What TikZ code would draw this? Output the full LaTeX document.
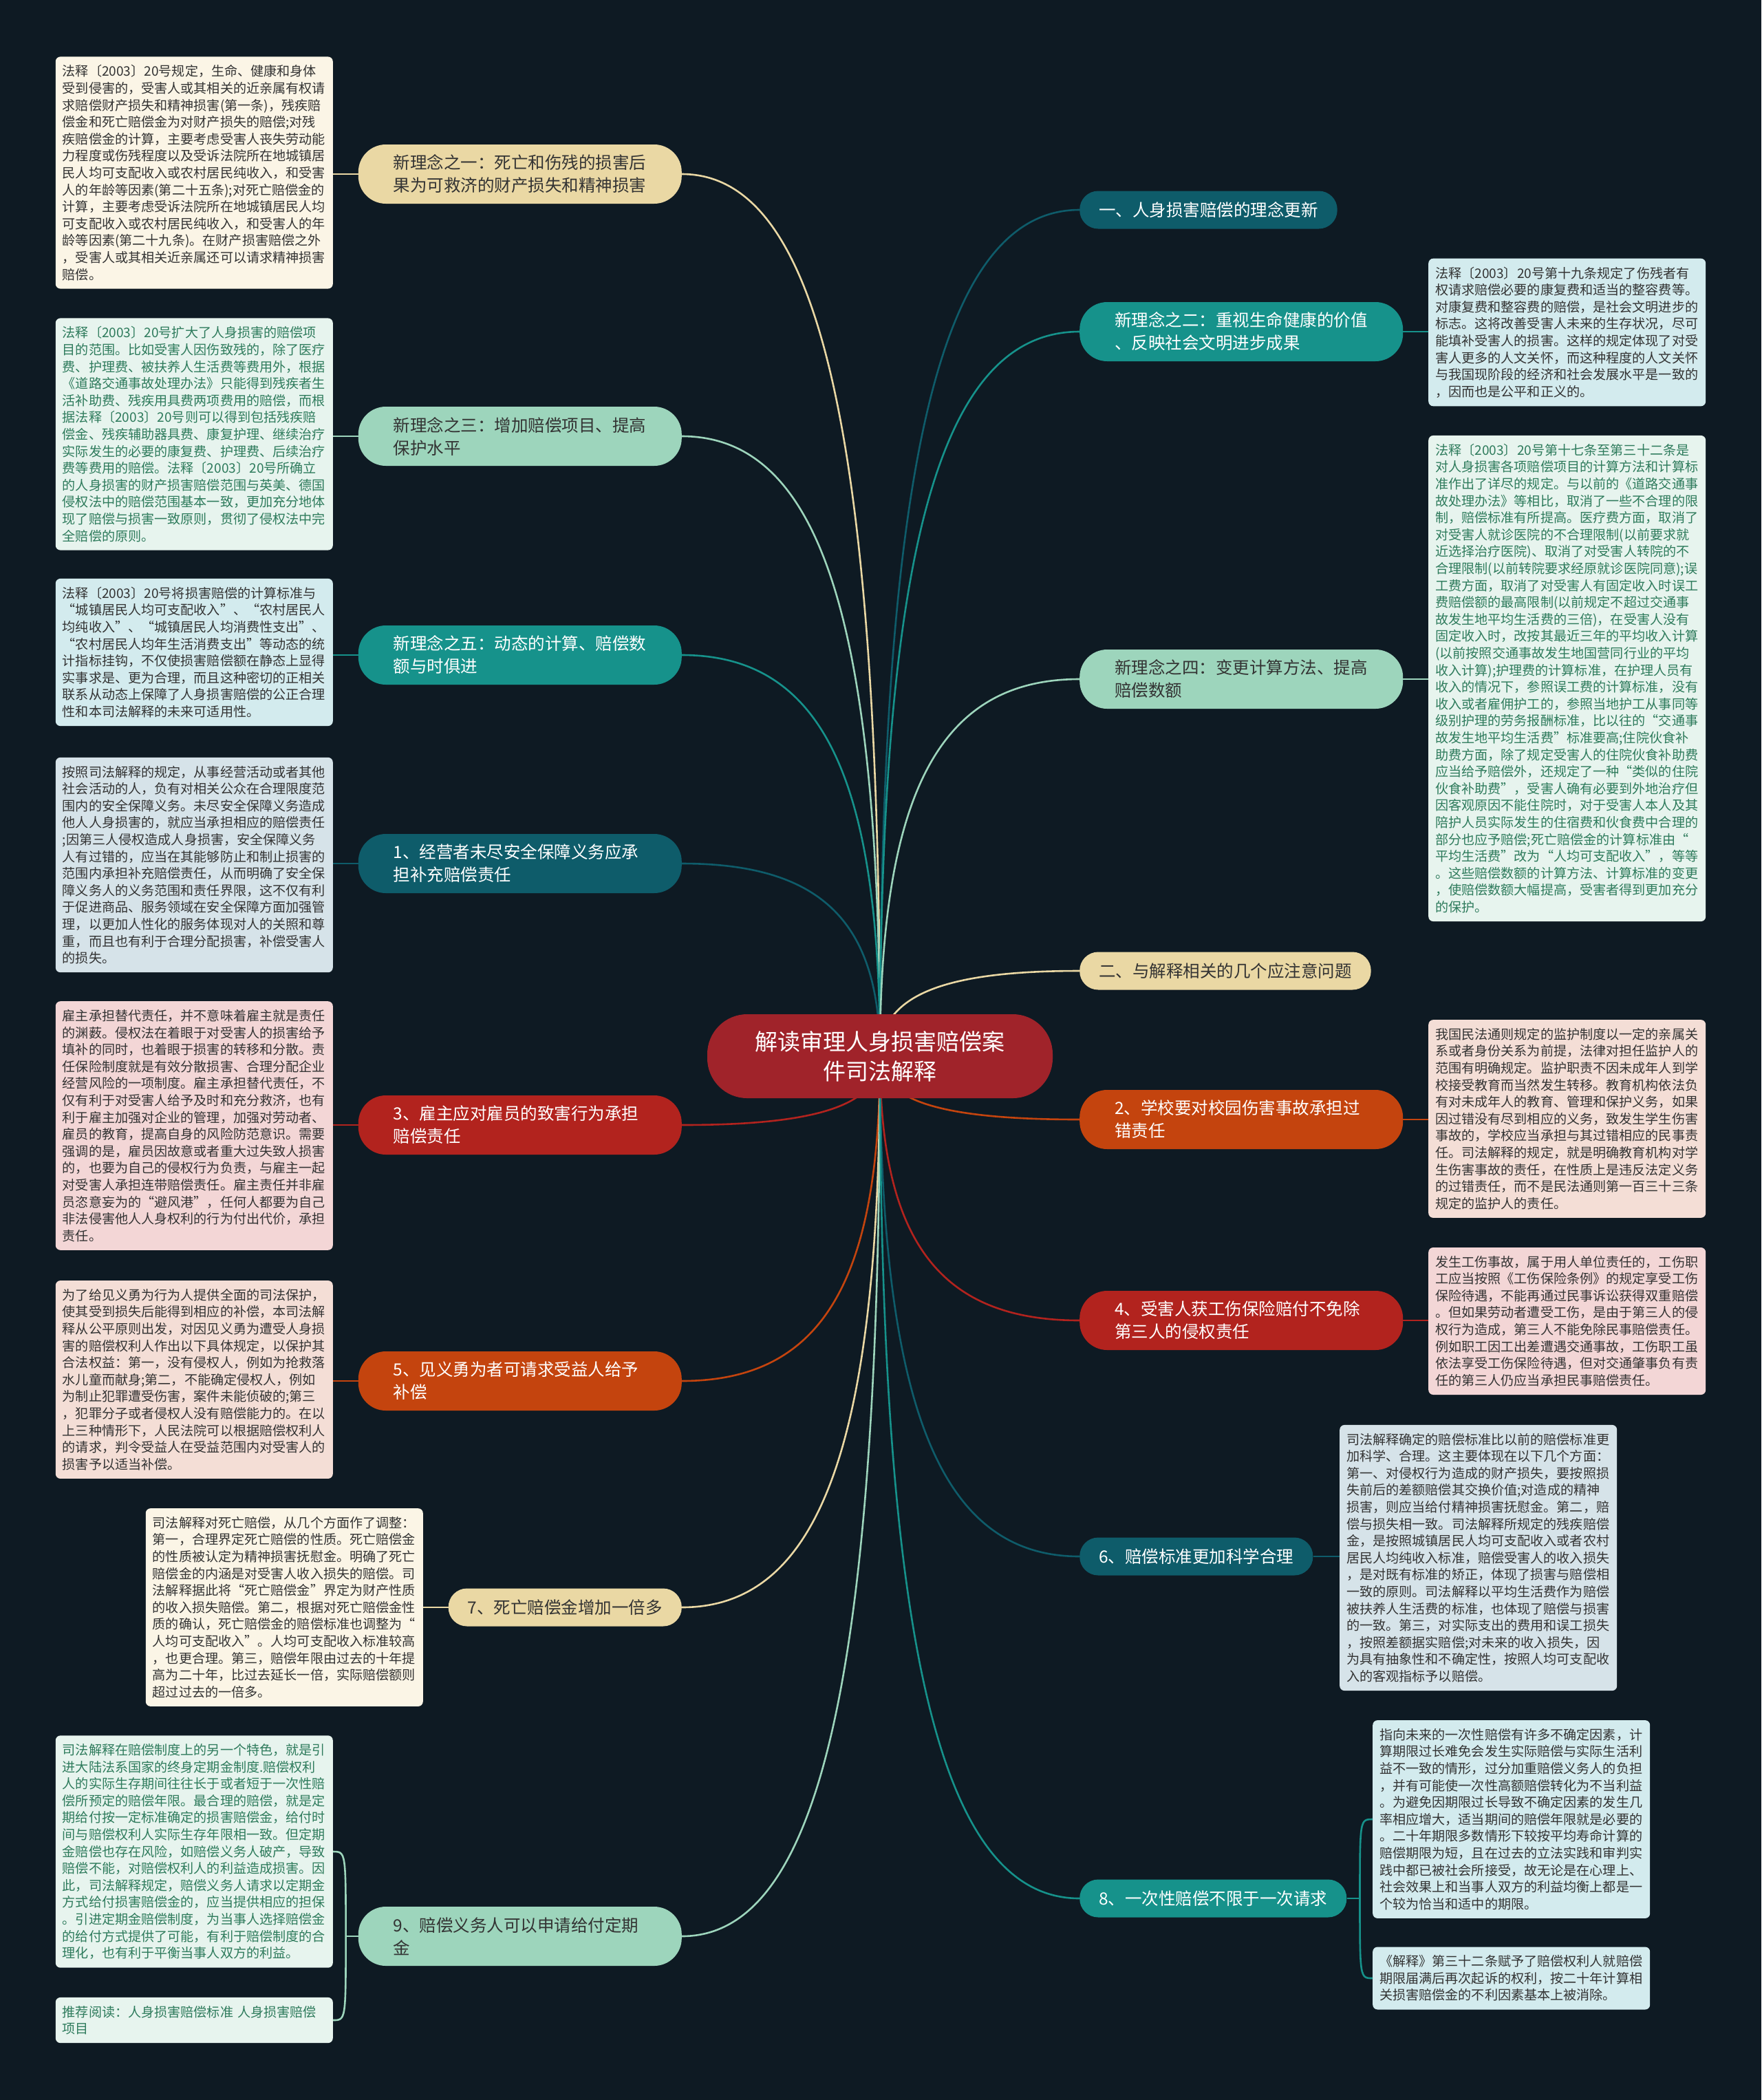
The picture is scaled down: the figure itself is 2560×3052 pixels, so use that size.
\documentclass[tikz,border=0pt]{standalone}
\usepackage{fontspec}
\setmainfont{Noto Sans CJK SC}
\usetikzlibrary{calc}
\definecolor{bgc}{HTML}{0E1A23}
\definecolor{ccream}{HTML}{EAD8A4}
\definecolor{cmint}{HTML}{9DD5BC}
\definecolor{cteal}{HTML}{16928B}
\definecolor{cdteal}{HTML}{0E5C6A}
\definecolor{cred}{HTML}{B2231E}
\definecolor{corange}{HTML}{C4440E}
\definecolor{ccenter}{HTML}{A0232A}
\definecolor{lcream}{HTML}{FBF5E6}
\definecolor{lmint}{HTML}{E7F4EE}
\definecolor{lteal}{HTML}{D3EBEE}
\definecolor{lgrey}{HTML}{D6E3E9}
\definecolor{lpink}{HTML}{F3D6D6}
\definecolor{lpeach}{HTML}{F4DED6}
\definecolor{tdark}{HTML}{333333}
\definecolor{tgreen}{HTML}{2E7B5C}
\newcommand\brfont{\fontsize{24.5pt}{33pt}\selectfont}
\newcommand\lffont{\fontsize{19.1pt}{24.6pt}\selectfont}
\newcommand\ctfont{\fontsize{33pt}{43pt}\selectfont}
\tikzset{
  brtwo/.style={rounded corners=40pt, text width=368pt, align=left, inner xsep=51pt, inner ysep=6pt, minimum height=86pt, font=\brfont},
  brone/.style={rounded corners=27pt, inner xsep=28pt, inner ysep=6pt, minimum height=55pt, font=\brfont},
  leafbox/.style={rounded corners=7pt, text width=383pt, inner xsep=10pt, inner ysep=12pt, align=left, font=\lffont, text=tdark},
  conn/.style={line width=2.6pt},
  leafconn/.style={line width=2.6pt},
  branchcurve/.style={to path={.. controls ($(\tikztostart)!0.7!(\tikztostart |- \tikztotarget)$) and ($(\tikztotarget)!0.7!(\tikztostart |- \tikztotarget)$) .. (\tikztotarget)}}
}
\begin{document}
\begin{tikzpicture}[x=1pt,y=-1pt]
\fill[bgc] (0,0) rectangle (2560,3052);
\useasboundingbox (0,0) rectangle (2560,3052);
\coordinate (c) at (1279,1535);

% ---------- branch nodes ----------
\node[brtwo, fill=ccream, text=tdark, anchor=east] (L1) at (991,253) {新理念之一：死亡和伤残的损害后\\果为可救济的财产损失和精神损害};
\node[brtwo, fill=cmint, text=tdark, anchor=east] (L2) at (991,634) {新理念之三：增加赔偿项目、提高\\保护水平};
\node[brtwo, fill=cteal, text=white, anchor=east] (L3) at (991,952) {新理念之五：动态的计算、赔偿数\\额与时俱进};
\node[brtwo, fill=cdteal, text=white, anchor=east] (L4) at (991,1255) {1、经营者未尽安全保障义务应承\\担补充赔偿责任};
\node[brtwo, fill=cred, text=white, anchor=east] (L5) at (991,1635) {3、雇主应对雇员的致害行为承担\\赔偿责任};
\node[brtwo, fill=corange, text=white, anchor=east] (L6) at (991,2007) {5、见义勇为者可请求受益人给予\\补偿};
\node[brone, fill=ccream, text=tdark, anchor=east] (L7) at (991,2336) {7、死亡赔偿金增加一倍多};
\node[brtwo, fill=cmint, text=tdark, anchor=east] (L8) at (991,2814) {9、赔偿义务人可以申请给付定期\\金};

\node[brone, fill=cdteal, text=white, anchor=west] (R1) at (1569,305) {一、人身损害赔偿的理念更新};
\node[brtwo, fill=cteal, text=white, anchor=west] (R2) at (1569,482) {新理念之二：重视生命健康的价值\\、反映社会文明进步成果};
\node[brtwo, fill=cmint, text=tdark, anchor=west] (R3) at (1569,987) {新理念之四：变更计算方法、提高\\赔偿数额};
\node[brone, fill=ccream, text=tdark, anchor=west] (R4) at (1569,1411) {二、与解释相关的几个应注意问题};
\node[brtwo, fill=corange, text=white, anchor=west] (R5) at (1569,1627) {2、学校要对校园伤害事故承担过\\错责任};
\node[brtwo, fill=cred, text=white, anchor=west] (R6) at (1569,1919) {4、受害人获工伤保险赔付不免除\\第三人的侵权责任};
\node[brone, fill=cdteal, text=white, anchor=west] (R7) at (1569,2262) {6、赔偿标准更加科学合理};
\node[brone, fill=cteal, text=white, anchor=west] (R8) at (1569,2759) {8、一次性赔偿不限于一次请求};

% ---------- leaf boxes ----------
\node[leafbox, fill=lcream, anchor=east] (LB1) at (484,251) {法释〔2003〕20号规定，生命、健康和身体\\受到侵害的，受害人或其相关的近亲属有权请\\求赔偿财产损失和精神损害(第一条)，残疾赔\\偿金和死亡赔偿金为对财产损失的赔偿;对残\\疾赔偿金的计算，主要考虑受害人丧失劳动能\\力程度或伤残程度以及受诉法院所在地城镇居\\民人均可支配收入或农村居民纯收入，和受害\\人的年龄等因素(第二十五条);对死亡赔偿金的\\计算，主要考虑受诉法院所在地城镇居民人均\\可支配收入或农村居民纯收入，和受害人的年\\龄等因素(第二十九条)。在财产损害赔偿之外\\，受害人或其相关近亲属还可以请求精神损害\\赔偿。};
\node[leafbox, fill=lmint, text=tgreen, anchor=east] (LB2) at (484,631) {法释〔2003〕20号扩大了人身损害的赔偿项\\目的范围。比如受害人因伤致残的，除了医疗\\费、护理费、被扶养人生活费等费用外，根据\\《道路交通事故处理办法》只能得到残疾者生\\活补助费、残疾用具费两项费用的赔偿，而根\\据法释〔2003〕20号则可以得到包括残疾赔\\偿金、残疾辅助器具费、康复护理、继续治疗\\实际发生的必要的康复费、护理费、后续治疗\\费等费用的赔偿。法释〔2003〕20号所确立\\的人身损害的财产损害赔偿范围与英美、德国\\侵权法中的赔偿范围基本一致，更加充分地体\\现了赔偿与损害一致原则，贯彻了侵权法中完\\全赔偿的原则。};
\node[leafbox, fill=lteal, anchor=east] (LB3) at (484,948) {法释〔2003〕20号将损害赔偿的计算标准与\\“城镇居民人均可支配收入”、“农村居民人\\均纯收入”、“城镇居民人均消费性支出”、\\“农村居民人均年生活消费支出”等动态的统\\计指标挂钩，不仅使损害赔偿额在静态上显得\\实事求是、更为合理，而且这种密切的正相关\\联系从动态上保障了人身损害赔偿的公正合理\\性和本司法解释的未来可适用性。};
\node[leafbox, fill=lgrey, anchor=east] (LB4) at (484,1257) {按照司法解释的规定，从事经营活动或者其他\\社会活动的人，负有对相关公众在合理限度范\\围内的安全保障义务。未尽安全保障义务造成\\他人人身损害的，就应当承担相应的赔偿责任\\;因第三人侵权造成人身损害，安全保障义务\\人有过错的，应当在其能够防止和制止损害的\\范围内承担补充赔偿责任，从而明确了安全保\\障义务人的义务范围和责任界限，这不仅有利\\于促进商品、服务领域在安全保障方面加强管\\理，以更加人性化的服务体现对人的关照和尊\\重，而且也有利于合理分配损害，补偿受害人\\的损失。};
\node[leafbox, fill=lpink, anchor=east] (LB5) at (484,1636) {雇主承担替代责任，并不意味着雇主就是责任\\的渊薮。侵权法在着眼于对受害人的损害给予\\填补的同时，也着眼于损害的转移和分散。责\\任保险制度就是有效分散损害、合理分配企业\\经营风险的一项制度。雇主承担替代责任，不\\仅有利于对受害人给予及时和充分救济，也有\\利于雇主加强对企业的管理，加强对劳动者、\\雇员的教育，提高自身的风险防范意识。需要\\强调的是，雇员因故意或者重大过失致人损害\\的，也要为自己的侵权行为负责，与雇主一起\\对受害人承担连带赔偿责任。雇主责任并非雇\\员恣意妄为的“避风港”，任何人都要为自己\\非法侵害他人人身权利的行为付出代价，承担\\责任。};
\node[leafbox, fill=lpeach, anchor=east] (LB6) at (484,2005) {为了给见义勇为行为人提供全面的司法保护，\\使其受到损失后能得到相应的补偿，本司法解\\释从公平原则出发，对因见义勇为遭受人身损\\害的赔偿权利人作出以下具体规定，以保护其\\合法权益：第一，没有侵权人，例如为抢救落\\水儿童而献身;第二，不能确定侵权人，例如\\为制止犯罪遭受伤害，案件未能侦破的;第三\\，犯罪分子或者侵权人没有赔偿能力的。在以\\上三种情形下，人民法院可以根据赔偿权利人\\的请求，判令受益人在受益范围内对受害人的\\损害予以适当补偿。};
\node[leafbox, fill=lcream, anchor=east] (LB7) at (615,2336) {司法解释对死亡赔偿，从几个方面作了调整：\\第一，合理界定死亡赔偿的性质。死亡赔偿金\\的性质被认定为精神损害抚慰金。明确了死亡\\赔偿金的内涵是对受害人收入损失的赔偿。司\\法解释据此将“死亡赔偿金”界定为财产性质\\的收入损失赔偿。第二，根据对死亡赔偿金性\\质的确认，死亡赔偿金的赔偿标准也调整为“\\人均可支配收入”。人均可支配收入标准较高\\，也更合理。第三，赔偿年限由过去的十年提\\高为二十年，比过去延长一倍，实际赔偿额则\\超过过去的一倍多。};
\node[leafbox, fill=lmint, text=tgreen, anchor=east] (LB8) at (484,2691) {司法解释在赔偿制度上的另一个特色，就是引\\进大陆法系国家的终身定期金制度.赔偿权利\\人的实际生存期间往往长于或者短于一次性赔\\偿所预定的赔偿年限。最合理的赔偿，就是定\\期给付按一定标准确定的损害赔偿金，给付时\\间与赔偿权利人实际生存年限相一致。但定期\\金赔偿也存在风险，如赔偿义务人破产，导致\\赔偿不能，对赔偿权利人的利益造成损害。因\\此，司法解释规定，赔偿义务人请求以定期金\\方式给付损害赔偿金的，应当提供相应的担保\\。引进定期金赔偿制度，为当事人选择赔偿金\\的给付方式提供了可能，有利于赔偿制度的合\\理化，也有利于平衡当事人双方的利益。};
\node[leafbox, fill=lmint, text=tgreen, anchor=east] (LB9) at (484,2936) {推荐阅读：人身损害赔偿标准 人身损害赔偿\\项目};

\node[leafbox, fill=lteal, anchor=west] (RB1) at (2076,483) {法释〔2003〕20号第十九条规定了伤残者有\\权请求赔偿必要的康复费和适当的整容费等。\\对康复费和整容费的赔偿，是社会文明进步的\\标志。这将改善受害人未来的生存状况，尽可\\能填补受害人的损害。这样的规定体现了对受\\害人更多的人文关怀，而这种程度的人文关怀\\与我国现阶段的经济和社会发展水平是一致的\\，因而也是公平和正义的。};
\node[leafbox, fill=lmint, text=tgreen, anchor=west] (RB2) at (2076,986) {法释〔2003〕20号第十七条至第三十二条是\\对人身损害各项赔偿项目的计算方法和计算标\\准作出了详尽的规定。与以前的《道路交通事\\故处理办法》等相比，取消了一些不合理的限\\制，赔偿标准有所提高。医疗费方面，取消了\\对受害人就诊医院的不合理限制(以前要求就\\近选择治疗医院)、取消了对受害人转院的不\\合理限制(以前转院要求经原就诊医院同意);误\\工费方面，取消了对受害人有固定收入时误工\\费赔偿额的最高限制(以前规定不超过交通事\\故发生地平均生活费的三倍)，在受害人没有\\固定收入时，改按其最近三年的平均收入计算\\(以前按照交通事故发生地国营同行业的平均\\收入计算);护理费的计算标准，在护理人员有\\收入的情况下，参照误工费的计算标准，没有\\收入或者雇佣护工的，参照当地护工从事同等\\级别护理的劳务报酬标准，比以往的“交通事\\故发生地平均生活费”标准要高;住院伙食补\\助费方面，除了规定受害人的住院伙食补助费\\应当给予赔偿外，还规定了一种“类似的住院\\伙食补助费”，受害人确有必要到外地治疗但\\因客观原因不能住院时，对于受害人本人及其\\陪护人员实际发生的住宿费和伙食费中合理的\\部分也应予赔偿;死亡赔偿金的计算标准由“\\平均生活费”改为“人均可支配收入”，等等\\。这些赔偿数额的计算方法、计算标准的变更\\，使赔偿数额大幅提高，受害者得到更加充分\\的保护。};
\node[leafbox, fill=lpeach, anchor=west] (RB3) at (2076,1626) {我国民法通则规定的监护制度以一定的亲属关\\系或者身份关系为前提，法律对担任监护人的\\范围有明确规定。监护职责不因未成年人到学\\校接受教育而当然发生转移。教育机构依法负\\有对未成年人的教育、管理和保护义务，如果\\因过错没有尽到相应的义务，致发生学生伤害\\事故的，学校应当承担与其过错相应的民事责\\任。司法解释的规定，就是明确教育机构对学\\生伤害事故的责任，在性质上是违反法定义务\\的过错责任，而不是民法通则第一百三十三条\\规定的监护人的责任。};
\node[leafbox, fill=lpink, anchor=west] (RB4) at (2076,1920) {发生工伤事故，属于用人单位责任的，工伤职\\工应当按照《工伤保险条例》的规定享受工伤\\保险待遇，不能再通过民事诉讼获得双重赔偿\\。但如果劳动者遭受工伤，是由于第三人的侵\\权行为造成，第三人不能免除民事赔偿责任。\\例如职工因工出差遭遇交通事故，工伤职工虽\\依法享受工伤保险待遇，但对交通肇事负有责\\任的第三人仍应当承担民事赔偿责任。};
\node[leafbox, fill=lgrey, anchor=west] (RB5) at (1947,2264) {司法解释确定的赔偿标准比以前的赔偿标准更\\加科学、合理。这主要体现在以下几个方面：\\第一、对侵权行为造成的财产损失，要按照损\\失前后的差额赔偿其交换价值;对造成的精神\\损害，则应当给付精神损害抚慰金。第二，赔\\偿与损失相一致。司法解释所规定的残疾赔偿\\金，是按照城镇居民人均可支配收入或者农村\\居民人均纯收入标准，赔偿受害人的收入损失\\，是对既有标准的矫正，体现了损害与赔偿相\\一致的原则。司法解释以平均生活费作为赔偿\\被扶养人生活费的标准，也体现了赔偿与损害\\的一致。第三，对实际支出的费用和误工损失\\，按照差额据实赔偿;对未来的收入损失，因\\为具有抽象性和不确定性，按照人均可支配收\\入的客观指标予以赔偿。};
\node[leafbox, fill=lteal, anchor=west] (RB6) at (1995,2644) {指向未来的一次性赔偿有许多不确定因素，计\\算期限过长难免会发生实际赔偿与实际生活利\\益不一致的情形，过分加重赔偿义务人的负担\\，并有可能使一次性高额赔偿转化为不当利益\\。为避免因期限过长导致不确定因素的发生几\\率相应增大，适当期间的赔偿年限就是必要的\\。二十年期限多数情形下较按平均寿命计算的\\赔偿期限为短，且在过去的立法实践和审判实\\践中都已被社会所接受，故无论是在心理上、\\社会效果上和当事人双方的利益均衡上都是一\\个较为恰当和适中的期限。};
\node[leafbox, fill=lteal, anchor=west] (RB7) at (1995,2875) {《解释》第三十二条赋予了赔偿权利人就赔偿\\期限届满后再次起诉的权利，按二十年计算相\\关损害赔偿金的不利因素基本上被消除。};

% ---------- connectors from centre ----------
\begin{scope}[on background layer/.style={}]
\end{scope}
\draw[conn, ccream] (c) to[branchcurve] (L1.east);
\draw[conn, cmint] (c) to[branchcurve] (L2.east);
\draw[conn, cteal] (c) to[branchcurve] (L3.east);
\draw[conn, cdteal] (c) to[branchcurve] (L4.east);
\draw[conn, cred] (c) to[branchcurve] (L5.east);
\draw[conn, corange] (c) to[branchcurve] (L6.east);
\draw[conn, ccream] (c) to[branchcurve] (L7.east);
\draw[conn, cmint] (c) to[branchcurve] (L8.east);
\draw[conn, cdteal] (c) to[branchcurve] (R1.west);
\draw[conn, cteal] (c) to[branchcurve] (R2.west);
\draw[conn, cmint] (c) to[branchcurve] (R3.west);
\draw[conn, ccream] (c) to[branchcurve] (R4.west);
\draw[conn, corange] (c) to[branchcurve] (R5.west);
\draw[conn, cred] (c) to[branchcurve] (R6.west);
\draw[conn, cdteal] (c) to[branchcurve] (R7.west);
\draw[conn, cteal] (c) to[branchcurve] (R8.west);

% ---------- leaf connectors ----------
\draw[leafconn, ccream] (L1.west) -- (L1.west -| LB1.east);
\draw[leafconn, cmint] (L2.west) -- (L2.west -| LB2.east);
\draw[leafconn, cteal] (L3.west) -- (L3.west -| LB3.east);
\draw[leafconn, cdteal] (L4.west) -- (L4.west -| LB4.east);
\draw[leafconn, cred] (L5.west) -- (L5.west -| LB5.east);
\draw[leafconn, corange] (L6.west) -- (L6.west -| LB6.east);
\draw[leafconn, ccream] (L7.west) -- (L7.west -| LB7.east);
\draw[leafconn, cmint] (L8.west) -- ++(-18,0) coordinate (j8);
\draw[leafconn, cmint] (j8) .. controls (j8 |- LB8.east) .. (LB8.east);
\draw[leafconn, cmint] (j8) .. controls (j8 |- LB9.east) .. (LB9.east);
\draw[leafconn, cteal] (R2.east) -- (R2.east -| RB1.west);
\draw[leafconn, cmint] (R3.east) -- (R3.east -| RB2.west);
\draw[leafconn, corange] (R5.east) -- (R5.east -| RB3.west);
\draw[leafconn, cred] (R6.east) -- (R6.east -| RB4.west);
\draw[leafconn, cdteal] (R7.east) -- (R7.east -| RB5.west);
\draw[leafconn, cteal] (R8.east) -- ++(19,0) coordinate (k8);
\draw[leafconn, cteal] (k8) .. controls (k8 |- RB6.west) .. (RB6.west);
\draw[leafconn, cteal] (k8) .. controls (k8 |- RB7.west) .. (RB7.west);

% ---------- centre ----------
\node[fill=ccenter, text=white, rounded corners=58pt, minimum width=502pt, minimum height=122pt, align=center, font=\ctfont] (C) at (c) {解读审理人身损害赔偿案\\件司法解释};
\end{tikzpicture}
\end{document}
